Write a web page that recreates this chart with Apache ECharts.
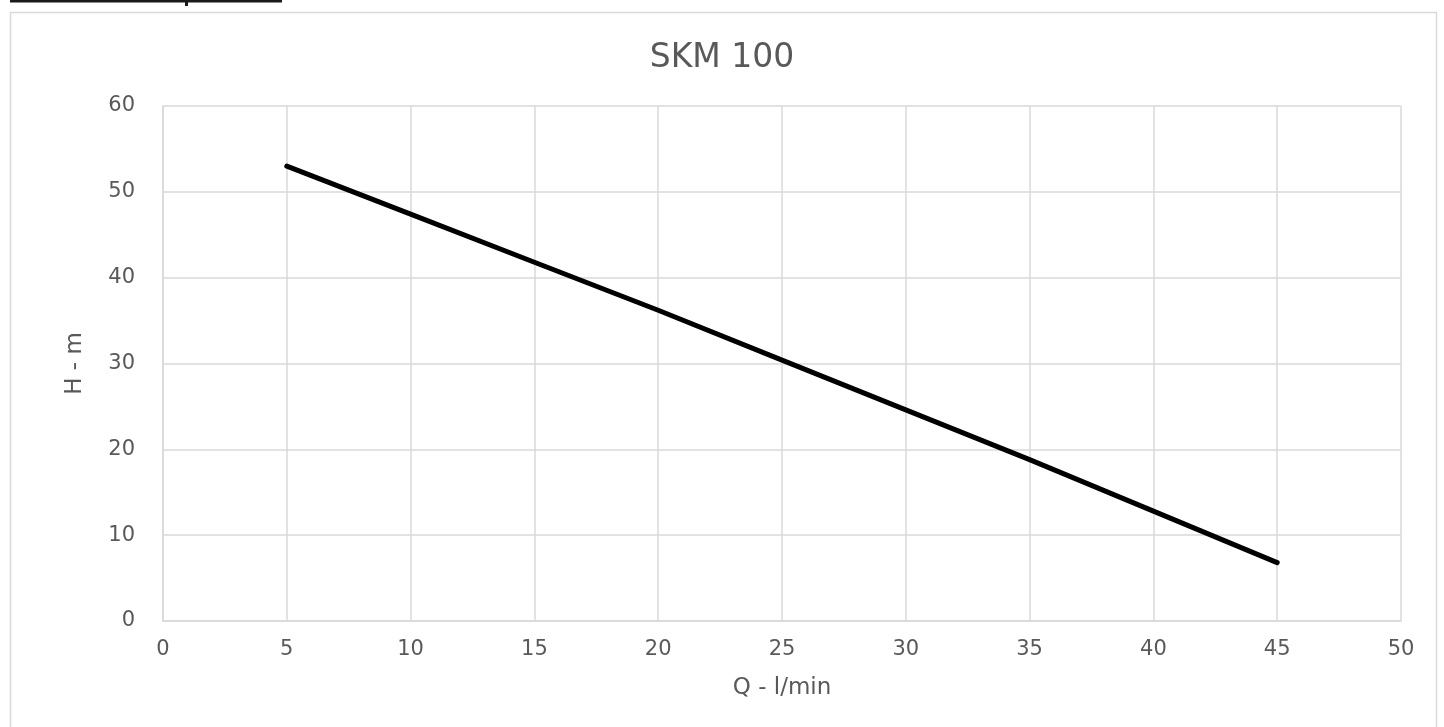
<!DOCTYPE html>
<html>
<head>
<meta charset="utf-8">
<script src="https://cdn.jsdelivr.net/npm/echarts@6/dist/echarts.min.js"></script>
<style>
html,body{margin:0;padding:0;background:#fff;}
#c{width:1444px;height:727px;}
</style>
</head>
<body>
<div id="c"></div>
<script>
const flow = [5, 10, 15, 20, 25, 30, 35, 40, 45];
const head = [53, 47.4, 41.8, 36.2, 30.4, 24.6, 18.8, 12.8, 6.8];
const titleText = 'SKM 100';
const xName = 'Q - l/min';
const yName = 'H - m';

const chart = echarts.init(document.getElementById('c'));
const font = '"DejaVu Sans", "Open Sans", sans-serif';
chart.setOption({
  animation: false,
  backgroundColor: '#fff',
  title: {
    text: titleText, left: 'center', top: 37,
    textStyle: {color: '#595959', fontSize: 33, fontWeight: 'normal', fontFamily: font}
  },
  graphic: [
    {type: 'rect', shape: {x: 10.5, y: 12.5, width: 1426, height: 740},
     style: {fill: 'none', stroke: '#d9d9d9', lineWidth: 1.5}, silent: true},
    {type: 'rect', shape: {x: 10, y: 0, width: 272, height: 2.5},
     style: {fill: '#1a1a1a'}, silent: true},
    {type: 'rect', shape: {x: 185, y: 0, width: 3, height: 6},
     style: {fill: '#1a1a1a'}, silent: true}
  ],
  grid: {left: 163, right: 43, top: 106, bottom: 106, containLabel: false},
  xAxis: {
    type: 'value', min: 0, max: 50, interval: 5,
    name: xName, nameLocation: 'middle', nameGap: 56,
    nameTextStyle: {color: '#595959', fontSize: 23, fontFamily: font},
    axisLine: {show: true, lineStyle: {color: '#d9d9d9', width: 1.5}},
    axisTick: {show: false},
    axisLabel: {color: '#595959', fontSize: 21, margin: 18, fontFamily: font},
    splitLine: {show: true, lineStyle: {color: '#d9d9d9', width: 1.5}}
  },
  yAxis: {
    type: 'value', min: 0, max: 60, interval: 10,
    name: yName, nameLocation: 'middle', nameGap: 76, nameRotate: 90,
    nameTextStyle: {color: '#595959', fontSize: 23, fontFamily: font},
    axisLine: {show: true, lineStyle: {color: '#d9d9d9', width: 1.5}},
    axisTick: {show: false},
    axisLabel: {color: '#595959', fontSize: 21, margin: 28, fontFamily: font},
    splitLine: {show: true, lineStyle: {color: '#d9d9d9', width: 1.5}}
  },
  series: [{
    type: 'line',
    data: flow.map((q, i) => [q, head[i]]),
    symbol: 'none',
    smooth: false,
    lineStyle: {color: '#000', width: 5, cap: 'round', join: 'round'}
  }]
});
</script>
</body>
</html>
